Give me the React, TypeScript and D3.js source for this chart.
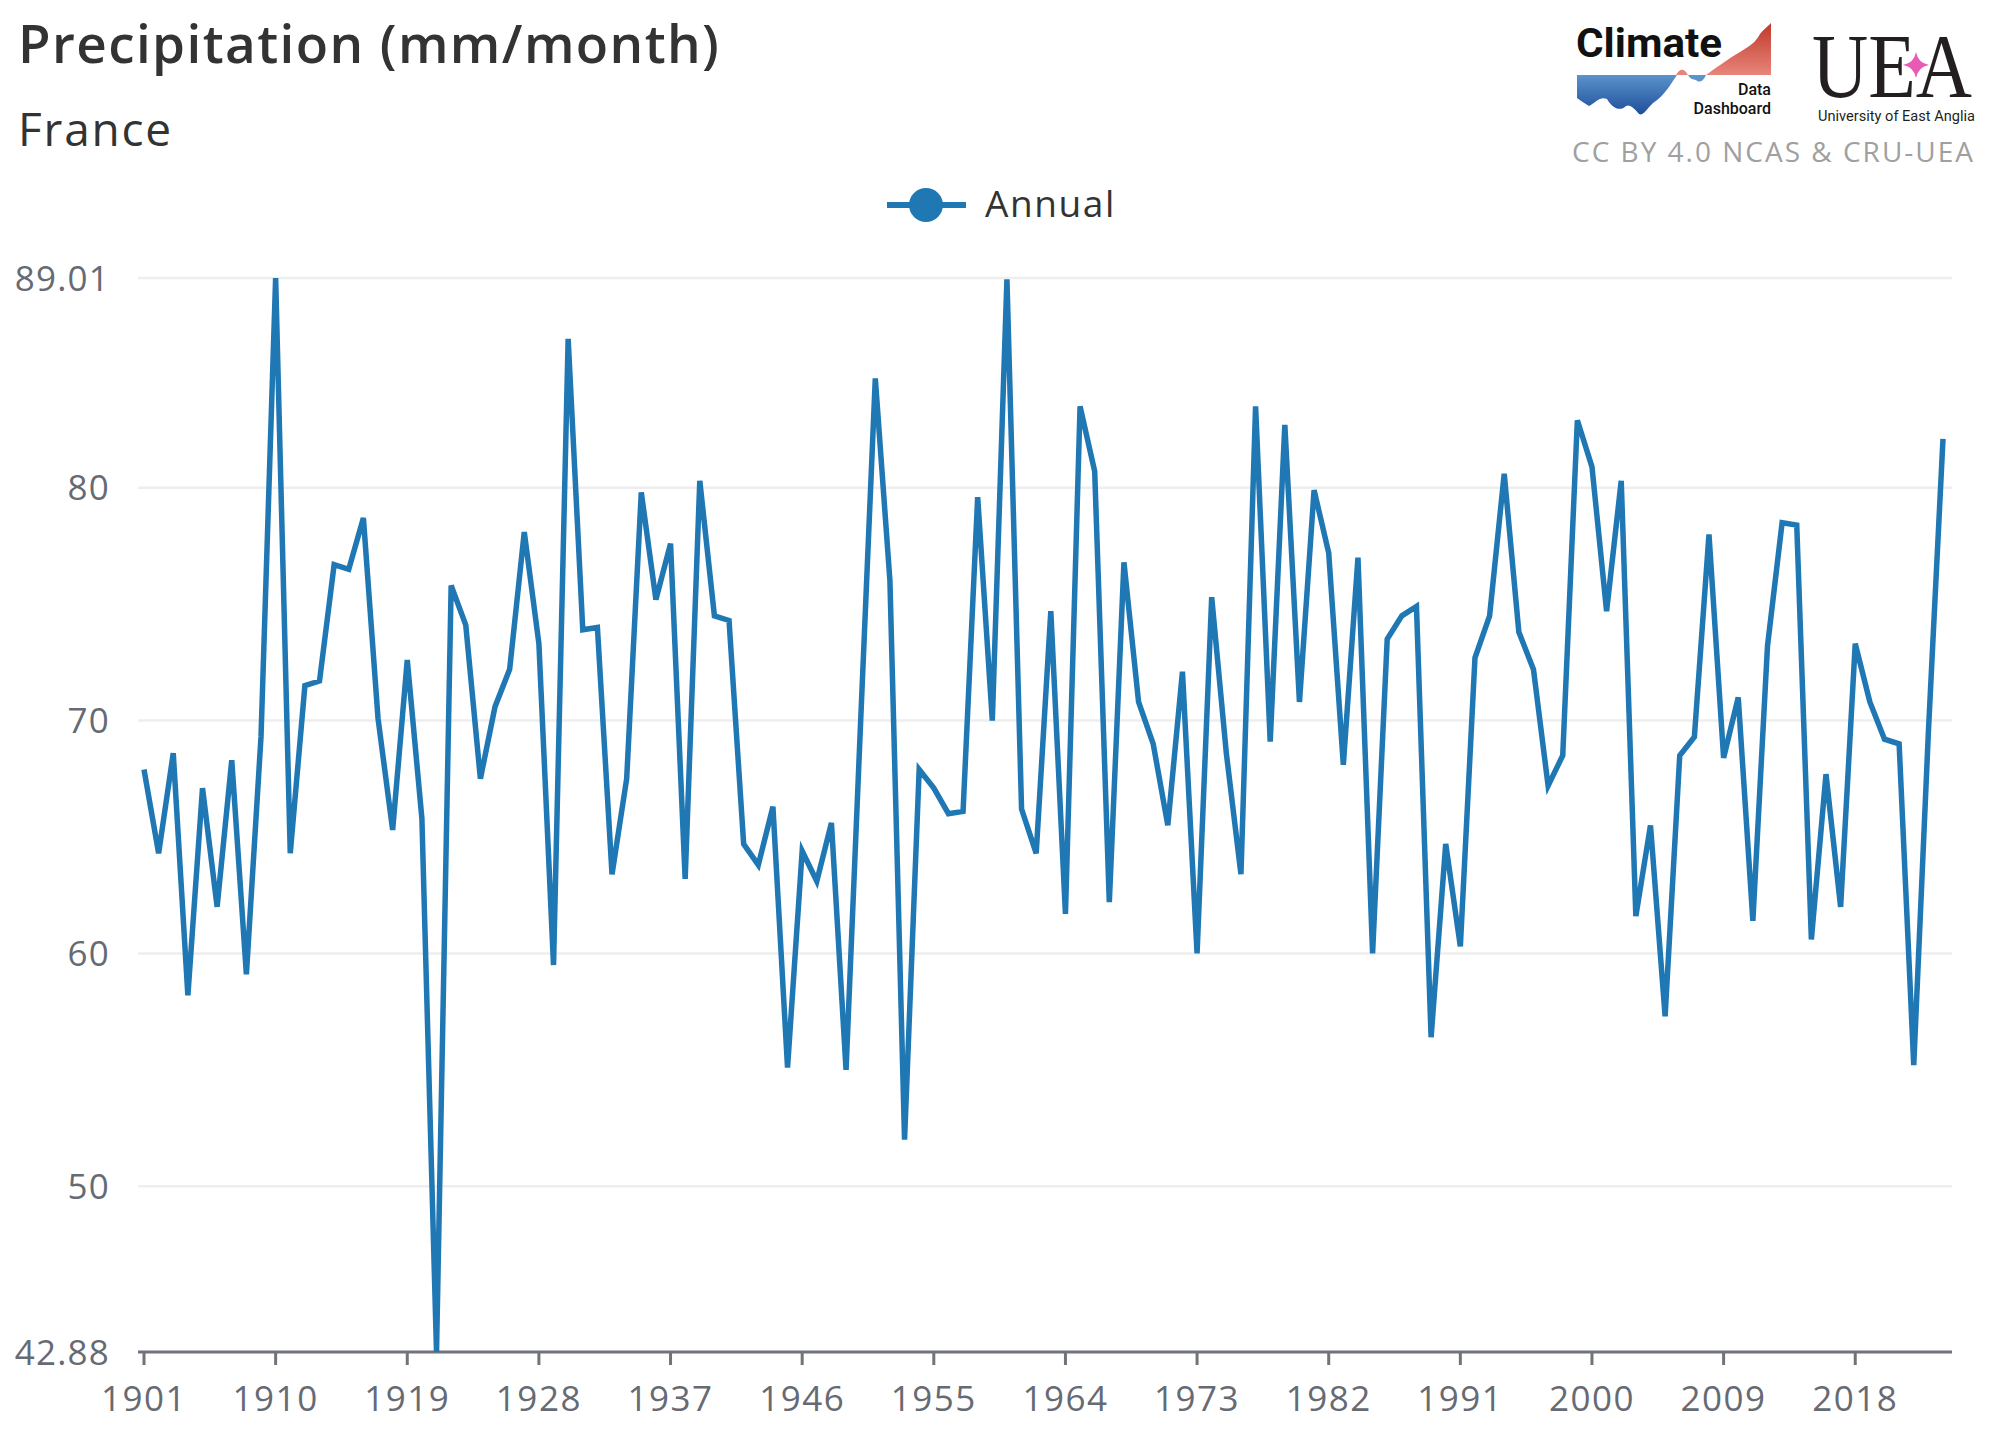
import React from "react";
import * as d3 from "d3";

const years: number[] = d3.range(1901, 2025);
const precipitation: number[] = [
  67.9, 64.3, 68.6, 58.2, 67.1, 62.0, 68.3, 59.1, 69.3, 89.01,
  64.3, 71.5, 71.7, 76.7, 76.5, 78.7, 70.1, 65.3, 72.6, 65.8,
  42.88, 75.8, 74.1, 67.5, 70.6, 72.2, 78.1, 73.3, 59.5, 86.4,
  73.9, 74.0, 63.4, 67.5, 79.8, 75.2, 77.6, 63.2, 80.3, 74.5,
  74.3, 64.7, 63.8, 66.3, 55.1, 64.4, 63.1, 65.6, 55.0, 70.0,
  84.7, 76.0, 52.0, 67.9, 67.1, 66.0, 66.1, 79.6, 70.0, 88.95,
  66.2, 64.3, 74.7, 61.7, 83.5, 80.7, 62.2, 76.8, 70.8, 69.0,
  65.5, 72.1, 60.0, 75.3, 68.6, 63.4, 83.5, 69.1, 82.7, 70.8,
  79.9, 77.2, 68.1, 77.0, 60.0, 73.5, 74.5, 74.9, 56.4, 64.7,
  60.3, 72.7, 74.5, 80.6, 73.8, 72.2, 67.2, 68.5, 82.9, 80.9,
  74.7, 80.3, 61.6, 65.5, 57.3, 68.5, 69.3, 78.0, 68.4, 71.0,
  61.4, 73.2, 78.5, 78.4, 60.6, 67.7, 62.0, 73.3, 70.8, 69.2,
  69.0, 55.2, 69.5, 82.1,
];
const yTicks: number[] = [42.88, 50, 60, 70, 80, 89.01];
const xTicks: number[] = [1901, 1910, 1919, 1928, 1937, 1946, 1955, 1964, 1973, 1982, 1991, 2000, 2009, 2018];
const title = "Precipitation (mm/month)";
const subtitle = "France";
const seriesName = "Annual";
const credit = "CC BY 4.0 NCAS & CRU-UEA";

const W = 2000;
const H = 1444;
const FONT = "'Open Sans', 'Noto Sans', sans-serif";
const BLUE = "#1f77b4";
const AXIS = "#70737c";
const LABEL = "#666a73";

export default function App() {
  const x = d3.scaleLinear().domain([1901, 2024]).range([144, 1943]);
  const y = d3.scaleLinear().domain([42.88, 89.01]).range([1352, 278]);
  const data = years.map((yr, i) => ({ yr, v: precipitation[i] }));
  const line = d3
    .line<{ yr: number; v: number }>()
    .x((d) => x(d.yr))
    .y((d) => y(d.v));

  const plotLeft = 138;
  const plotRight = 1952;
  const axisY = y(42.88);

  return (
    <svg
      width={W}
      height={H}
      viewBox={`0 0 ${W} ${H}`}
      style={{ position: "absolute", left: 0, top: 0, background: "#fff" }}
    >
      <defs>
        <linearGradient id="redGrad" x1="0" y1="0" x2="0" y2="1">
          <stop offset="0" stopColor="#c0392b" />
          <stop offset="1" stopColor="#e8857a" />
        </linearGradient>
        <linearGradient id="blueGrad" x1="0" y1="0" x2="0" y2="1">
          <stop offset="0" stopColor="#5b93cc" />
          <stop offset="1" stopColor="#1f4e9a" />
        </linearGradient>
      </defs>
      <rect x={0} y={0} width={W} height={H} fill="#fff" />
      {/* Title */}
      <text x={18} y={63} fontFamily={FONT} fontSize={53} fontWeight={600} fill="#333" letterSpacing={1.4}>
        {title}
      </text>
      <text x={18} y={146} fontFamily={FONT} fontSize={46} fontWeight={400} fill="#333" letterSpacing={1.8}>
        {subtitle}
      </text>

      {/* Logos */}
      <g>
        <path
          d="M1706,75 C1718,66 1730,58 1740,52 C1750,46 1756,42 1760,34 C1764,29 1767,27 1771,23 L1771,75 Z"
          fill="url(#redGrad)"
        />
        <path d="M1676,75 C1680,68 1684,68 1688,75 Z" fill="#e8857a" />
        <path
          d="M1577,75 L1677,75 C1670,85 1665,95 1653,103 C1646,110 1643,116 1639,114 C1634,108 1630,104 1626,106 C1620,112 1612,108 1607,99 C1600,96 1595,103 1589,106 C1584,103 1580,100 1577,98 Z"
          fill="url(#blueGrad)"
        />
        <path d="M1688,75 L1706,75 C1703,82 1699,83 1696,80 C1693,79 1691,80 1688,75 Z" fill="#5a95c9" />
        <text
          x={1576}
          y={57}
          fontFamily="'Roboto', sans-serif"
          fontWeight={700}
          fontSize={40}
          fill="#111"
          textLength={146}
          lengthAdjust="spacingAndGlyphs"
        >
          Climate
        </text>
        <text x={1771} y={95} textAnchor="end" fontFamily="'Roboto', sans-serif" fontWeight={500} fontSize={16} fill="#111">
          Data
        </text>
        <text x={1771} y={114} textAnchor="end" fontFamily="'Roboto', sans-serif" fontWeight={500} fontSize={16} fill="#111">
          Dashboard
        </text>
        <text
          transform="translate(1812,97) scale(1,1.3)"
          x={0}
          y={0}
          fontFamily="'Liberation Serif', 'DejaVu Serif', serif"
          fontSize={70}
          fill="#231f20"
          textLength={160}
          lengthAdjust="spacingAndGlyphs"
        >
          UEA
        </text>
        <path
          d="M1916,52 Q1918,63 1929,65 Q1918,67 1916,78 Q1914,67 1903,65 Q1914,63 1916,52 Z"
          fill="#e85ab4"
        />
        <text
          x={1818}
          y={121}
          fontFamily="'Roboto', sans-serif"
          fontSize={14}
          fill="#231f20"
          textLength={157}
          lengthAdjust="spacingAndGlyphs"
        >
          University of East Anglia
        </text>
        <text x={1975} y={162} textAnchor="end" fontFamily={FONT} fontSize={28} fill="#a0a0a0" letterSpacing={2}>
          {credit}
        </text>
      </g>

      {/* Legend */}
      <g>
        <line x1={887} x2={966} y1={205} y2={205} stroke={BLUE} strokeWidth={6} />
        <circle cx={926} cy={205} r={17} fill={BLUE} />
        <text x={985} y={217} fontFamily={FONT} fontSize={37} fill="#333" letterSpacing={1.6}>
          {seriesName}
        </text>
      </g>

      {/* Grid */}
      {yTicks.map((t) => (
        <g key={t}>
          {t !== yTicks[0] && (
            <line x1={plotLeft} x2={plotRight} y1={y(t)} y2={y(t)} stroke="#eeeeee" strokeWidth={2.5} />
          )}
          <text
            x={110}
            y={y(t)}
            dy="0.36em"
            textAnchor="end"
            fontFamily={FONT}
            fontSize={35}
            fill={LABEL}
            letterSpacing={1.2}
          >
            {t}
          </text>
        </g>
      ))}

      {/* X axis */}
      <line x1={plotLeft} x2={plotRight} y1={axisY} y2={axisY} stroke={AXIS} strokeWidth={3} />
      {xTicks.map((t) => (
        <g key={t}>
          <line x1={x(t)} x2={x(t)} y1={axisY} y2={axisY + 13} stroke={AXIS} strokeWidth={3} />
          <text
            x={x(t)}
            y={1411}
            textAnchor="middle"
            fontFamily={FONT}
            fontSize={35}
            fill={LABEL}
            letterSpacing={1.5}
          >
            {t}
          </text>
        </g>
      ))}

      {/* Line */}
      <path d={line(data) || ""} fill="none" stroke={BLUE} strokeWidth={5.5} strokeLinejoin="miter" />
    </svg>
  );
}
